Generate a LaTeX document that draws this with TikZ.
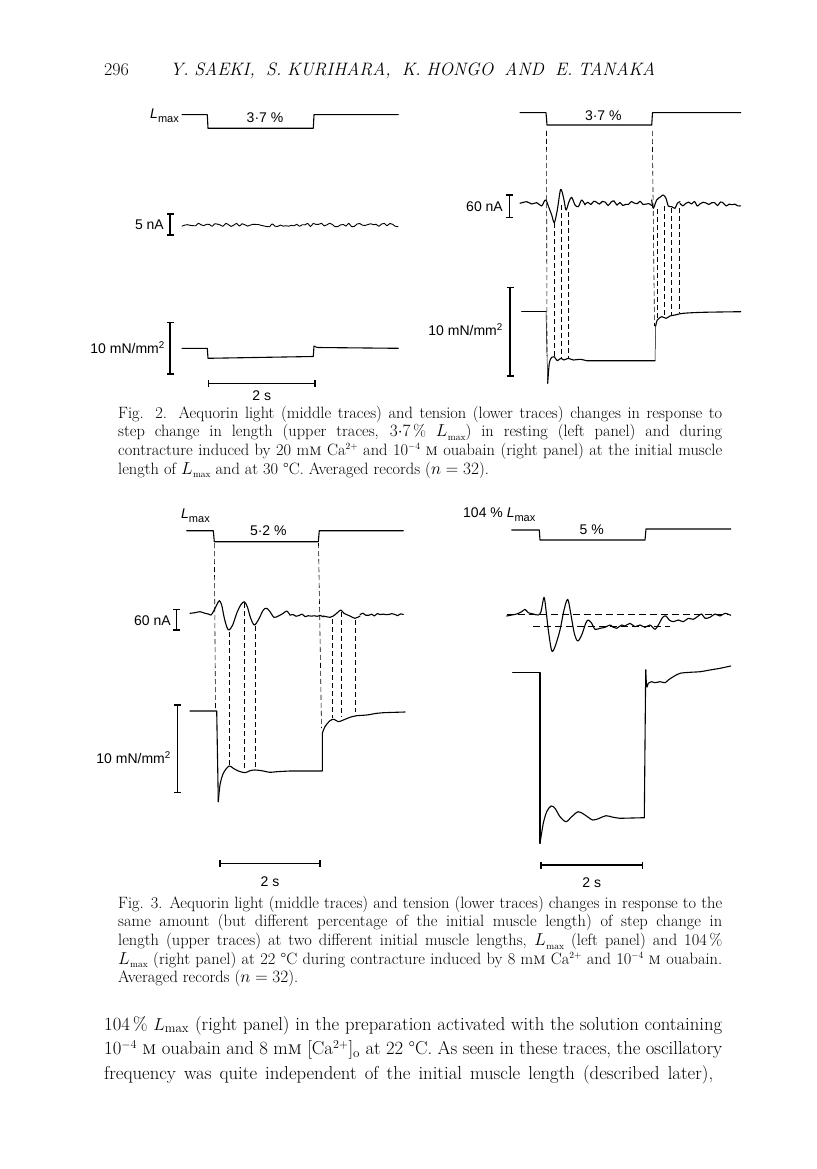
\documentclass[tikz,border=0pt]{standalone}
\usepackage{fontspec}
\newfontfamily\labfont{Liberation Sans}
\usetikzlibrary{calc}
\tikzset{
  trace/.style={line width=1.1pt, line join=round, line cap=round},
  thintrace/.style={line width=0.5pt},
  dashv/.style={line width=0.6pt, dash pattern=on 5pt off 3pt},
  dashh/.style={line width=0.7pt, dash pattern=on 7pt off 4pt},
  sbar/.style={line width=1.2pt},
  lab/.style={inner sep=0pt, font=\labfont\fontsize{14}{16}\selectfont},
  capt/.style={inner sep=0pt, font=\fontsize{16.4}{18.7}\selectfont},
  body/.style={inner sep=0pt, font=\fontsize{18.7}{24.5}\selectfont},
  head/.style={inner sep=0pt, font=\fontsize{18}{22}\selectfont}
}
\newcommand\myvbar[3]{\draw[sbar] (#1,#2)--(#1,#3) (#1-3.5,#2)--(#1+3.5,#2) (#1-3.5,#3)--(#1+3.5,#3);}
\newcommand\myhbar[3]{\draw[sbar] (#1,#3)--(#2,#3) (#1,#3-3.5)--(#1,#3+3.5) (#2,#3-3.5)--(#2,#3+3.5);}
\newcommand\Lm{{\itshape L}\raisebox{-0.3em}{\fontsize{11}{11}\selectfont max}}
\newcommand\Lx{$L_{\mathrm{max}}$}
\newcommand\cLx{$L$\kern0.5pt\raisebox{-0.22em}{\fontsize{9.5}{10}\selectfont max}}
\newcommand\csup[1]{\raisebox{0.34em}{\fontsize{9.5}{10}\selectfont #1}}
\newcommand\dotnum[2]{$#1{\cdot}#2$}
\newcommand\cl[1]{\makebox[604pt][s]{#1}}
\newcommand\bl[1]{\makebox[618pt][s]{#1}}
\newlength\mylsl
\setlength\mylsl{-20pt}
\begin{document}
\begin{tikzpicture}[x=1pt,y=-1pt]
\useasboundingbox[fill=white] (0,0) rectangle (816,1169);
\pgfmathsetseed{4242}
% ---------- header ----------
\node[head, anchor=base west] (pg) at (104,76) {296};
\node[head, anchor=base west] (hd) at (170,76) {\makebox[485pt][s]{\itshape Y. SAEKI, \ S. KURIHARA, \ K. HONGO \ AND \ E. TANAKA}};

% ================= Fig 2 left =================
\node[lab, anchor=east] (l2a) at (179,116) {\Lm};
\draw[trace] (182,114.7) -- (207.3,114.7) -- (208,128.3) -- (313.3,128.3) -- (314,114.7) -- (398.3,114.7);
\node[lab] (p2a) at (265,118) {3\textperiodcentered7 \%};
\myvbar{170}{214}{235}
\node[lab, anchor=east] (n2a) at (164,225) {5 nA};
\draw[trace, line width=0.9pt] plot[smooth, domain=182:398, samples=80] (\x,{225+1.8*rand});
\myvbar{170}{322.7}{374}
\node[lab, anchor=east] (t2a) at (165,348) {10 mN/mm\textsuperscript{2}};
\draw[trace] (182,348.3) -- (207.3,348.3) -- (208,358.3) -- (313.3,356.5) -- (314,346) -- (317,347.5) -- (398.3,348.3);
\myhbar{208.3}{315}{383.3}
\node[lab] (s2a) at (261.7,396) {2 s};

% ================= Fig 2 right =================
\draw[trace] (520,112.7) -- (546,112.7) -- (547,125) -- (651.7,125) -- (652.5,112.7) -- (740.7,112.7);
\node[lab] (p2b) at (603.3,116) {3\textperiodcentered7 \%};
\myvbar{509.3}{195}{217.7}
\node[lab, anchor=east] (n2b) at (503,206.7) {60 nA};
\draw[trace] plot[smooth, tension=0.5] coordinates {(520,203.3) (526.7,201.7) (531.7,204) (536.7,202.7) (541.7,206) (544,201.7) (546,200) (548.3,206) (551.7,215) (554.3,222.7) (557.3,210) (560.7,189.3) (564,200) (566,210) (569,201.7) (571.7,197.3) (575,205) (578.3,206.7) (581.7,200) (585,205)};
\draw[trace] plot[smooth, domain=585:651.7, samples=24] (\x,{203.3+2.4*rand});
\draw[trace] plot[smooth, tension=0.5] coordinates {(651.7,200) (653.3,208.3) (656.7,200) (660.7,196.7) (663.3,195) (666,198.3) (668.3,206) (671.7,206.7) (675,208.3) (677.3,203.3) (680,201.7)};
\draw[trace] plot[smooth, domain=680:740.7, samples=22] (\x,{204+2.6*rand});
\myvbar{510}{287.3}{376}
\node[lab, anchor=east] (t2b) at (503,330) {10 mN/mm\textsuperscript{2}};
\draw[trace] (521.7,311.7) -- (546,311.7);
\draw[thintrace] (546,311.7) -- (547.7,383.3);
\draw[trace] plot[smooth, tension=0.5] coordinates {(547.7,383.3) (549.3,363.3) (551.7,357.3) (554.3,356.7) (557.3,360.7) (560.7,358.3) (564,360) (568.3,358.3) (573.3,360) (580,359.3) (586.7,360.7)} -- (655,360.7);
\draw[thintrace] (655,360.7) -- (655.7,326);
\draw[trace] plot[smooth, tension=0.5] coordinates {(655.7,326) (657.3,320) (661.7,316.7) (666,318.3) (670,316) (675,315) (683.3,313.3) (703.3,312.3) (740.7,311.7)};
% dashed verticals
\draw[dashv] (546.5,131) -- (547,356);
\draw[dashv] (652.3,131) -- (654.5,326);
\draw[dashv] (554.3,223) -- (554.3,356.7);
\draw[dashv] (561.5,205) -- (561.5,358.3);
\draw[dashv] (568.3,212) -- (568.3,358.3);
\draw[dashv] (657.3,209) -- (657.3,320);
\draw[dashv] (664.3,206) -- (664.3,316.7);
\draw[dashv] (671.7,208.3) -- (671.7,315);
\draw[dashv] (679.3,208.3) -- (679.3,313.3);

% ---------- caption Fig 2 ----------
\node[capt, anchor=base west] (cap2) at (118,418) {\parbox[t]{604pt}{\lineskiplimit=\mylsl
\cl{Fig. 2. Aequorin light (middle traces) and tension (lower traces) changes in response to}\\
\cl{step change in length (upper traces, \dotnum37\,\% \cLx) in resting (left panel) and during}\\
\cl{contracture induced by 20 m\textsc{m} Ca\csup{2+} and 10\csup{$-$4} \textsc{m} ouabain (right panel) at the initial muscle}\\
length of \cLx{} and at 30 \textdegree C. Averaged records ($n=32$).}};

% ================= Fig 3 left =================
\node[lab, anchor=west] (l3a) at (181,516) {\Lm};
\draw[trace] (186.7,530.7) -- (213.3,530.7) -- (214.3,541.7) -- (318.3,541.7) -- (319.3,530.7) -- (403.3,530.7);
\node[lab] (p3a) at (268.3,531) {5\textperiodcentered2 \%};
\myvbar{176.7}{609.3}{630}
\node[lab, anchor=east] (n3a) at (171,620.7) {60 nA};
\draw[trace] plot[smooth, tension=0.5] coordinates {(190,613.3) (195,612.7) (200,611.7) (205,613.3) (208.3,614) (211,615) (213.3,611.7) (216.7,605) (219.3,600.7) (221.7,605) (224,616.7) (226.7,626.7) (229,630) (232.7,625) (236.7,613.3) (240.7,605) (244.3,601.7) (247.3,606.7) (250.7,618.3) (254.3,625) (258.3,620) (263.3,610) (266.7,608.3) (270,611.7) (274,617.3) (278.3,616) (283.3,613.3) (286.7,611) (290,615)};
\draw[trace] plot[smooth, domain=290:323.3, samples=12] (\x,{615.5+1.4*rand});
\draw[trace] plot[smooth, tension=0.5] coordinates {(323.3,616) (330,617.3) (333.3,616) (336.7,613.3) (340.7,610) (344,613.3) (350,616) (355,618.3) (360,616)};
\draw[trace] plot[smooth, domain=360:403.3, samples=16] (\x,{614.5+1.4*rand});
\myvbar{177.7}{705}{792.7}
\node[lab, anchor=east] (t3a) at (171,758) {10 mN/mm\textsuperscript{2}};
\draw[trace] (190,711) -- (216.7,711) -- (218.3,801.7);
\draw[trace] plot[smooth, tension=0.5] coordinates {(218.3,801.7) (220,785) (223.3,773.3) (229,766) (233.3,768.3) (238.3,771) (245,772.7) (250,770.7) (255,770) (261.7,770.7) (270,772.3) (276.7,771.7) (290,771)} -- (322.3,771) -- (322.3,733.3);
\draw[trace] plot[smooth, tension=0.5] coordinates {(322.3,733.3) (325,726.7) (330,720.7) (334,719.3) (338.3,721.7) (343.3,720) (350,717.3) (356.7,715.7) (366.7,715) (376.7,713.3) (383.3,712.7) (405,712)};
\draw[dashv] (214.3,543) -- (215.5,708);
\draw[dashv] (229,632) -- (229,765);
\draw[dashv] (244.3,603) -- (244.3,771);
\draw[dashv] (255,626) -- (255,769);
\draw[dashv] (318.5,543) -- (321.5,728);
\draw[dashv] (332.3,619) -- (332.3,718.3);
\draw[dashv] (341,612) -- (341,716.7);
\draw[dashv] (355,620) -- (355,711.7);
\myhbar{220}{320}{863.3}
\node[lab] (s3a) at (270,882) {2 s};

% ================= Fig 3 right =================
\node[lab, anchor=west] (l3b) at (463,515) {104 \% \Lm};
\draw[trace] (511.7,530) -- (539.3,530) -- (540,540) -- (645,540) -- (646,529) -- (730.7,529);
\node[lab] (p3b) at (591.7,530) {5 \%};
\draw[dashh] (506.7,614.3) -- (728.3,614.3);
\draw[dashh] (533.3,626.7) -- (670,626.7);
\draw[trace] plot[smooth, tension=0.5] coordinates {(506.7,616) (511.7,615) (516.7,614) (521.7,611.7) (525,609.3) (528.3,612.7) (533.3,614) (538.3,615) (541,611.7) (544,597.3) (546,610) (548.3,630) (551.7,650.7) (555,646.7) (560,630) (564,610) (567.7,599.3) (570.7,613.3) (574.3,633.3) (577.7,641) (581.7,635) (585.7,623.3) (588.3,620) (591.7,623.3) (595,629.3) (600,628.3) (605,627.3) (610,625) (613.3,627.3) (616.7,628.3) (621.7,625) (625,626) (630,623.3) (635,626.7) (640,625) (645,627.3) (650,625) (655,629.3) (658.3,625) (662.7,617.3) (666,616) (669.3,620) (673.3,621.7) (678.3,620) (683.3,621.7) (688.3,618.3) (693.3,619.3) (698.3,616) (701.7,614) (705,618.3) (710,617.3) (715,614) (720,616) (725,613.3) (730.7,615.3)};
\draw[trace] (512.7,672.7) -- (540,672.7) -- (540,843.3);
\draw[trace] plot[smooth, tension=0.5] coordinates {(540,843.3) (543.3,823.3) (546.7,811.7) (551,806) (555,808.3) (560,816.7) (566,821.7) (571.7,816.7) (578.3,811.7) (585,815) (592.7,820) (599.3,818.3) (606,815.7) (613.3,817.3) (620,818.3)} -- (644.3,817.7) -- (645.7,670);
\draw[trace] plot[smooth, tension=0.5] coordinates {(645.7,670) (646.7,686.7) (648.3,683.3) (651.7,681.7) (655,682.7) (660,681.7) (665,682.7) (668.3,680) (673.3,676.7) (680,673.3) (690,672.3) (700,671.7) (710,670) (720,668.3) (730.7,666)};
\myhbar{541}{642.7}{865}
\node[lab] (s3b) at (591.7,883) {2 s};

% ---------- caption Fig 3 ----------
\node[capt, anchor=base west] (cap3) at (118,908) {\parbox[t]{604pt}{\lineskiplimit=\mylsl
\cl{Fig. 3. Aequorin light (middle traces) and tension (lower traces) changes in response to the}\\
\cl{same amount (but different percentage of the initial muscle length) of step change in}\\
\cl{length (upper traces) at two different initial muscle lengths, \cLx{} (left panel) and 104\,\%}\\
\cl{\cLx{} (right panel) at 22 \textdegree C during contracture induced by 8 m\textsc{m} Ca\csup{2+} and 10\csup{$-$4} \textsc{m} ouabain.}\\
Averaged records ($n=32$).}};

% ---------- body ----------
\node[body, anchor=base west] (txt) at (104,1030) {\parbox[t]{618pt}{\lineskiplimit=\mylsl
\bl{104\,\% \Lx{} (right panel) in the preparation activated with the solution containing}\\
\bl{10$^{-4}$ \textsc{m} ouabain and 8 m\textsc{m} [Ca$^{2+}$]$_{\mathrm{o}}$ at 22 \textdegree C. As seen in these traces, the oscillatory}\\
\makebox[609pt][s]{frequency was quite independent of the initial muscle length (described later),}}};
\end{tikzpicture}
\end{document}
